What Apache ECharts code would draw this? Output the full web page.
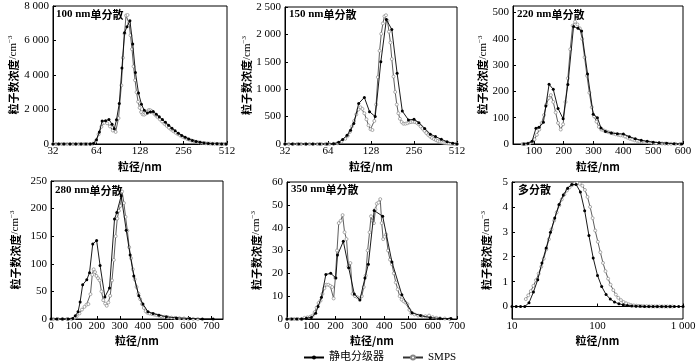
<!DOCTYPE html>
<html><head><meta charset="utf-8">
<script src="https://cdn.jsdelivr.net/npm/echarts@6/dist/echarts.min.js"></script>
<style>html,body{margin:0;padding:0;background:#fff}#c{width:700px;height:362px}</style>
</head><body><div id="c"></div>
<script>
// ---------- data ----------
const panelTitles = ['100 nm', '150 nm', '220 nm', '280 nm', '350 nm', ''];
const seriesNames = ['静电分级器', 'SMPS'];
const xTicksLog2 = [32, 64, 128, 256, 512];
const yTicks100 = [0, 2000, 4000, 6000, 8000];
const yTicks150 = [0, 500, 1000, 1500, 2000, 2500];
const xTicks220 = [100, 200, 300, 400, 500, 600];
const yTicks220 = [0, 100, 200, 300, 400, 500];
const xTicks280 = [0, 100, 200, 300, 400, 500, 600, 700];
const xTicksPoly = [10, 100, 1000];
const yTicksPoly = [0, 1, 2, 3, 4, 5];

const p100_dma = [[32,0],[35,0],[38,0],[42,0],[46,0],[50,0],[54,0],[58,0],[61,30],[64,250],[67,700],[70,1330],[74,1350],[78,1420],[82,1150],[85,880],[88,1400],[92,2350],[96,4400],[100,6450],[104,6800],[109,7150],[114,5800],[119,4150],[125,2950],[131,2300],[137,1950],[144,1800],[151,1860],[158,1880],[166,1720],[174,1580],[183,1420],[192,1260],[202,1090],[213,920],[224,770],[236,630],[249,500],[263,390],[278,290],[295,210],[313,150],[333,100],[355,62],[380,36],[407,18],[437,8],[470,3],[505,0]];
const p100_smps = [[32,0],[33.5,0],[35,0],[36.7,0],[38.4,0],[40.2,0],[42,0],[44,0],[46,0],[48.2,0],[50.4,0],[52.7,0],[55.2,0],[57.7,0],[60.4,20],[63.2,180],[66.1,560],[69.2,1000],[72.4,1230],[75.8,1200],[79.3,1020],[83,780],[86.8,700],[90.9,1500],[95.1,3400],[97.5,5000],[100,6400],[102.5,7450],[105,7480],[107.5,7000],[110,6300],[112.7,5500],[115.5,4500],[118.3,3700],[121.2,3000],[124.2,2450],[127.2,2100],[130.3,1850],[133.5,1720],[136.8,1700],[140.1,1760],[143.6,1880],[147.1,1970],[150.7,1960],[154.4,1900],[158.2,1820],[162,1720],[166,1640],[170,1550],[176,1420],[182,1300],[189,1170],[196,1050],[203,940],[210,840],[218,740],[226,650],[234,570],[243,490],[252,420],[261,360],[271,300],[281,250],[291,205],[302,165],[313,130],[325,100],[337,78],[350,60],[363,45],[377,33],[391,24],[405,17],[420,12],[436,8],[452,5],[469,3],[486,2],[504,1]];

const p150_dma = [[32,0],[36,0],[40,0],[45,0],[50,0],[56,0],[63,0],[70,5],[76,30],[81,80],[87,160],[92,250],[97,376],[105,740],[115,850],[125,590],[137,500],[150,1500],[164,2270],[179,2090],[195,1290],[212,600],[234,440],[256,450],[277,390],[304,285],[333,180],[362,135],[398,85],[436,42],[478,12],[512,0]];
const p150_smps = [[32,0],[34,0],[36.5,0],[39,0],[41.5,0],[44.5,0],[47.5,0],[50.5,0],[54,0],[57.5,0],[61.5,0],[65.5,0],[70,3],[74.5,15],[79.5,45],[84.5,95],[88,150],[91,220],[94,320],[97.5,420],[101,540],[104.5,630],[108,670],[111.5,640],[115,560],[119,450],[123,340],[127,270],[131,255],[135,420],[139,720],[143,1220],[147,1700],[151,2010],[155,2200],[159,2330],[163,2350],[167,2250],[171,2050],[175,1850],[179,1550],[184,1230],[189,950],[194,720],[199,560],[204,460],[210,400],[216,370],[223,370],[230,380],[237,395],[244,400],[252,405],[260,400],[268,385],[276,360],[285,320],[294,280],[303,240],[312,200],[322,165],[332,135],[342,110],[353,90],[364,72],[375,56],[387,43],[399,32],[411,24],[424,17],[437,12],[451,8],[465,5],[480,3],[495,1],[510,0]];

const p220_dma = [[66,0],[80,2],[94,10],[107,60],[117,64],[132,83],[140,145],[151,227],[165,208],[181,135],[198,96],[214,226],[233,447],[248,440],[260,430],[280,266],[299,113],[313,100],[325,61],[340,48],[360,42],[380,39],[400,38],[420,28],[440,20],[460,14],[480,10],[500,7],[520,5],[545,3],[570,1],[595,0]];
const p220_smps = [[62,0],[70,0],[78,1],[86,3],[94,8],[102,18],[110,35],[118,55],[126,80],[134,110],[142,150],[150,175],[157,186],[165,160],[173,120],[181,80],[190,55],[198,75],[206,160],[214,250],[222,360],[230,450],[238,465],[246,455],[254,440],[262,400],[270,330],[278,260],[286,195],[294,140],[302,105],[310,85],[318,65],[326,55],[334,52],[342,48],[350,45],[358,42],[366,40],[374,37],[382,35],[390,33],[398,32],[406,28],[414,24],[422,20],[430,17],[438,14],[446,12],[454,10],[462,9],[470,8],[478,7],[486,6],[494,5],[502,4],[510,3],[520,2.5],[530,2],[540,1.5],[550,1],[560,1],[575,0.5],[590,0]];

const p280_dma = [[0,0],[25,0],[50,0],[75,0],[95,1],[106,6],[118,13],[127,31],[138,62],[156,71],[168,84],[182,136],[199,142],[214,97],[235,40],[255,56],[277,181],[287,193],[306,223],[328,161],[345,116],[361,78],[383,42],[401,27],[423,13],[445,10],[471,7],[503,4],[547,2],[605,1],[660,0],[707,0]];
const p280_smps = [[10,0],[30,0],[50,0],[70,0],[90,0],[102,2],[112,5],[124,10],[135,17],[146,22],[155,26],[163,27],[172,45],[180,80],[186,90],[192,85],[198,78],[205,74],[212,70],[220,50],[228,34],[236,28],[243,24],[250,30],[258,42],[266,70],[274,107],[282,150],[289,182],[296,196],[303,205],[310,231],[318,210],[325,185],[333,160],[341,130],[349,110],[357,90],[365,72],[373,58],[381,46],[389,36],[397,27],[405,20],[413,14],[421,11],[430,10],[440,9],[450,8],[460,7],[470,6],[480,5],[495,4],[510,3],[525,2.5],[540,2],[560,1.5],[580,1],[600,0.5],[620,0.2],[640,0]];

const p350_dma = [[0,0],[20,0],[40,0],[60,0],[80,0.3],[100,0.7],[118,2.5],[128,5.5],[142,9.5],[160,19.5],[180,20],[201,18],[208,28],[232,34],[254,22.5],[277,11],[300,8.3],[321,18],[335,24],[359,47.5],[394,45],[432,25],[473,10.6],[515,2.7],[550,1.5],[590,0.6],[630,0.2],[675,0.2]];
const p350_smps = [[0,0],[15,0],[30,0],[45,0],[60,0],[72,0.5],[84,0.7],[96,1],[106,1.5],[114,3],[122,5],[130,7],[138,8],[146,11],[154,13.5],[162,15],[170,15],[178,14.5],[186,14],[192,9],[199,18],[206,30],[213,42],[221,43],[229,45.5],[237,38],[245,35],[253,23],[261,24.5],[270,11],[280,10],[290,9.5],[300,9],[308,10],[316,14],[324,19],[332,30],[340,38],[346,45],[352,43],[358,42],[364,48],[370,50.5],[377,51],[384,52.5],[390,42],[396,35],[402,36],[408,37],[416,30],[424,26],[432,24],[440,20],[448,16],[456,13],[464,10],[472,8.5],[480,7.8],[488,7.2],[496,6.5],[504,4],[512,2.5],[525,2],[540,1.5],[555,1.3],[570,1.2],[585,1.5],[600,0.8],[615,0.5],[630,0.3],[650,0.2],[670,0]];

const poly_dma = [[10,0],[11.2,0],[12.6,0],[14.1,0],[15.8,0.15],[17.8,0.58],[20,1.08],[22.4,1.75],[25.1,2.35],[28.2,2.98],[31.6,3.55],[35.5,4.1],[39.8,4.48],[44.7,4.75],[50.1,4.9],[56.2,4.9],[63.1,4.6],[70.8,3.85],[79.4,2.85],[89.1,1.95],[100,1.25],[112,0.8],[126,0.48],[141,0.3],[158,0.18],[178,0.11],[200,0.07],[224,0.04],[251,0.025],[282,0.015],[316,0.01],[355,0],[398,0],[447,0],[501,0],[562,0],[631,0],[708,0],[794,0],[891,0],[1000,0]];
const poly_smps = [[14.5,0.3],[15.5,0.45],[16.6,0.62],[17.8,0.83],[19.1,1.06],[20.5,1.32],[22,1.6],[23.5,1.92],[25.2,2.3],[27,2.7],[29,3.1],[31.1,3.45],[33.3,3.78],[35.7,4.06],[38.2,4.3],[41,4.5],[43.9,4.66],[47,4.78],[50.4,4.88],[54,4.94],[57.9,4.96],[62,4.93],[66.5,4.85],[71.3,4.68],[76.4,4.4],[81.9,4.0],[87.7,3.55],[94,3.05],[101,2.6],[108,2.18],[116,1.75],[124,1.42],[133,1.12],[142,0.88],[153,0.66],[164,0.48],[175,0.35],[188,0.26],[202,0.18],[216,0.13],[232,0.09],[248,0.06],[266,0.045],[285,0.035],[306,0.025],[328,0.02],[351,0.015],[376,0.012],[403,0.01],[432,0.008],[463,0.006],[496,0.005],[532,0.004],[570,0.003],[611,0.002],[655,0.002],[702,0.001],[752,0.001]];

// ---------- chart ----------
const SERIF = '"Liberation Serif","Times New Roman","Noto Sans CJK SC",serif';
const CJK = '"Noto Sans CJK SC",sans-serif';
function fmt(v) {
  const r = Math.round(v * 1000) / 1000;
  if (Math.abs(r) >= 1000) return String(r).replace(/\B(?=(\d{3})+(?!\d))/g, ' ');
  return String(r);
}
const grids = [
  {left: 53, top: 6, width: 174, height: 138},
  {left: 285, top: 7, width: 172, height: 137},
  {left: 513, top: 6, width: 170, height: 138},
  {left: 51, top: 181, width: 172, height: 138},
  {left: 287, top: 182, width: 170, height: 137},
  {left: 512, top: 182, width: 171, height: 137}
].map(g => Object.assign({show: true, borderColor: '#000', borderWidth: 1, backgroundColor: 'transparent'}, g));

const yNameGaps = [33, 28, 20, 29, 24, 19];
const xNameGaps = [17, 17, 17, 16, 16, 16];
const axisCommon = {
  axisLine: {show: true, lineStyle: {color: '#000', width: 1}},
  axisTick: {show: true, inside: true, length: 3, lineStyle: {color: '#000'}},
  axisLabel: {color: '#000', fontFamily: SERIF, fontSize: 11, formatter: fmt},
  splitLine: {show: false}
};
function xAx(i, cfg) {
  const a = Object.assign({}, axisCommon, {
    gridIndex: i, name: '粒径/nm', nameLocation: 'middle', nameGap: xNameGaps[i],
    nameTextStyle: {color: '#000', fontFamily: CJK, fontSize: 11, fontWeight: 'bold'}
  }, cfg);
  a.axisLabel = Object.assign({}, axisCommon.axisLabel, {margin: 2}, cfg.axisLabel || {});
  a.axisTick = Object.assign({}, axisCommon.axisTick, cfg.axisTick || {});
  return a;
}
function yAx(i, cfg) {
  const a = Object.assign({}, axisCommon, {
    gridIndex: i, type: 'value',
    name: '{c|粒子数浓度}{l|/cm}{s|−3}', nameLocation: 'middle', nameGap: yNameGaps[i],
    nameTextStyle: {color: '#000', rich: {
      c: {fontFamily: CJK, fontSize: 11, fontWeight: 'bold', color: '#000'},
      l: {fontFamily: SERIF, fontSize: 11, color: '#000'},
      s: {fontFamily: SERIF, fontSize: 7, color: '#000', verticalAlign: 'top', padding: [0, 0, 6, 0]}
    }}
  }, cfg);
  a.axisLabel = Object.assign({}, axisCommon.axisLabel, {margin: 4}, cfg.axisLabel || {});
  a.axisTick = Object.assign({}, axisCommon.axisTick, cfg.axisTick || {});
  return a;
}

const xAxes = [
  xAx(0, {type: 'log', logBase: 2, min: 32, max: 512, axisLabel: {customValues: xTicksLog2}, axisTick: {customValues: xTicksLog2}}),
  xAx(1, {type: 'log', logBase: 2, min: 32, max: 512, axisLabel: {customValues: xTicksLog2}, axisTick: {customValues: xTicksLog2}}),
  xAx(2, {type: 'value', min: 30, max: 600, axisLabel: {customValues: xTicks220}, axisTick: {customValues: xTicks220}}),
  xAx(3, {type: 'value', min: 0, max: 750, axisLabel: {customValues: xTicks280}, axisTick: {customValues: xTicks280}}),
  xAx(4, {type: 'value', min: 0, max: 700, interval: 100}),
  xAx(5, {type: 'log', logBase: 10, min: 10, max: 1000, axisLabel: {customValues: xTicksPoly}, axisTick: {customValues: xTicksPoly}})
];
const yAxes = [
  yAx(0, {min: 0, max: 8000, axisLabel: {customValues: yTicks100}, axisTick: {customValues: yTicks100}}),
  yAx(1, {min: 0, max: 2500, axisLabel: {customValues: yTicks150}, axisTick: {customValues: yTicks150}}),
  yAx(2, {min: 0, max: 525, axisLabel: {customValues: yTicks220}, axisTick: {customValues: yTicks220}}),
  yAx(3, {min: 0, max: 250, interval: 50}),
  yAx(4, {min: 0, max: 60, interval: 10}),
  yAx(5, {min: -0.5, max: 5, axisLabel: {customValues: yTicksPoly}, axisTick: {customValues: yTicksPoly}})
];

const panels = [
  [p100_dma, p100_smps], [p150_dma, p150_smps], [p220_dma, p220_smps],
  [p280_dma, p280_smps], [p350_dma, p350_smps], [poly_dma, poly_smps]
];
const series = [];
panels.forEach((p, i) => {
  series.push({
    name: seriesNames[0], type: 'line', xAxisIndex: i, yAxisIndex: i, data: p[0],
    symbol: 'circle', symbolSize: 3, showAllSymbol: true, z: 3,
    itemStyle: {color: '#000'}, lineStyle: {color: '#000', width: 0.9}
  });
  series.push({
    name: seriesNames[1], type: 'line', xAxisIndex: i, yAxisIndex: i, data: p[1],
    symbol: 'circle', symbolSize: 3, showAllSymbol: true, z: 2,
    itemStyle: {color: '#fff', borderColor: '#888', borderWidth: 0.7},
    lineStyle: {color: '#333', width: 0.8}
  });
});

const titlePos = [[56, 9], [289, 9], [517, 9], [55, 185], [291, 184], [518, 184]];
const titles = titlePos.map((pos, i) => ({
  left: pos[0], top: pos[1], padding: 0,
  text: panelTitles[i] ? '{a|' + panelTitles[i] + '}{b|单分散}' : '{b|多分散}',
  textStyle: {rich: {
    a: {fontFamily: SERIF, fontSize: 11, color: '#000'},
    b: {fontFamily: CJK, fontSize: 11, fontWeight: 'bold', color: '#000'}
  }}
}));

const chart = echarts.init(document.getElementById('c'), null, {renderer: 'canvas'});
chart.setOption({
  animation: false,
  backgroundColor: '#fff',
  title: titles,
  grid: grids,
  xAxis: xAxes,
  yAxis: yAxes,
  legend: {
    data: seriesNames, left: 298, top: 347, itemGap: 18, itemWidth: 20, itemHeight: 5,
    textStyle: {color: '#000', fontSize: 11, fontFamily: SERIF, fontWeight: 'normal'}
  },
  series: series
});
</script></body></html>
